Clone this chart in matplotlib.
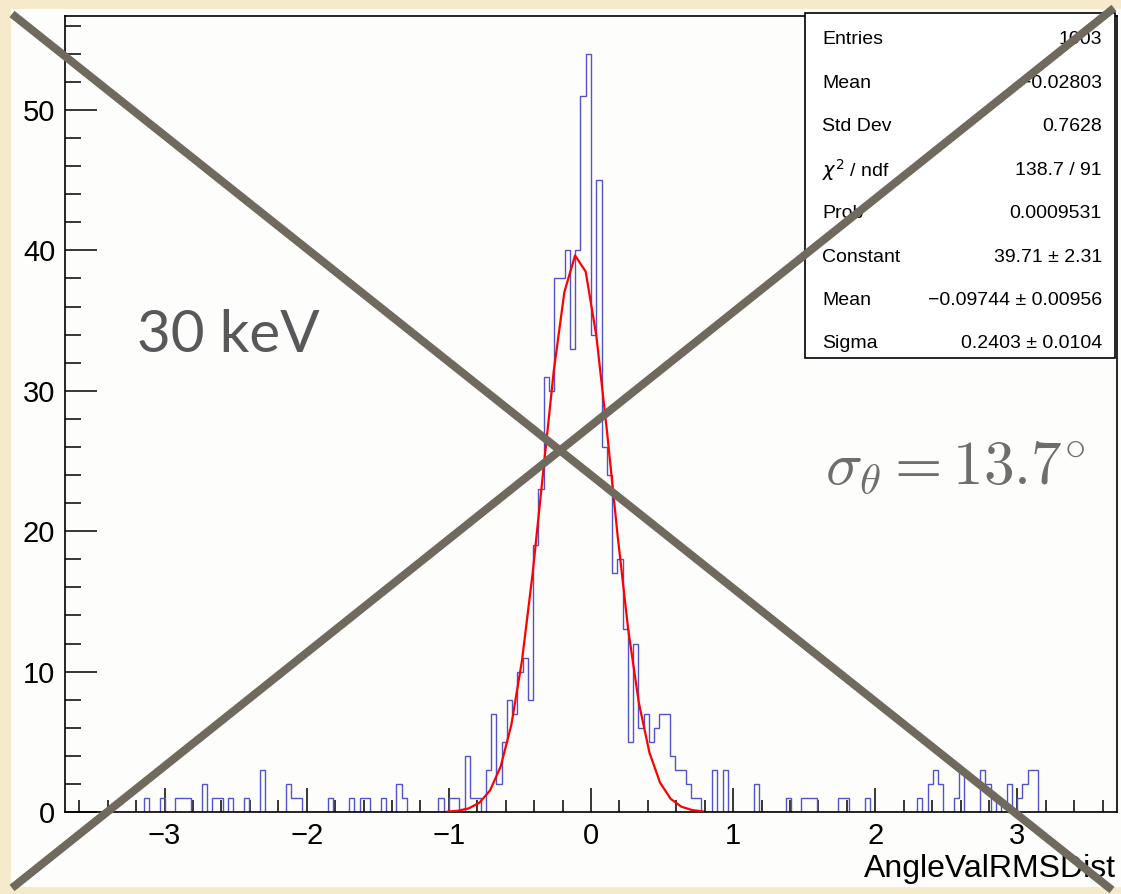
import numpy as np
import matplotlib
matplotlib.use('Agg')
import matplotlib.pyplot as plt
from matplotlib.lines import Line2D
from matplotlib.patches import Rectangle
from matplotlib.ticker import MultipleLocator

# ---------------- data ----------------
hist_xmin, hist_xmax, hist_nbins = -3.7, 3.7, 200
filled_bins = [15, 18, 21, 22, 23, 26, 28, 29, 31, 34, 37, 42, 43, 44, 50, 54, 56, 57, 60,
               63, 64, 71, 73, 74, 76, 77, 78,
               80, 81, 82, 83, 84, 85, 86, 87, 88, 89, 90, 91, 92, 93, 94, 95, 96, 97, 98, 99,
               100, 101, 102, 103, 104, 105, 106, 107, 108, 109, 110, 111, 112, 113, 114, 115,
               116, 117, 118, 119, 120,
               123, 125, 131, 137, 140, 141, 142, 147, 148, 152, 162, 164, 165, 166, 169, 170,
               174, 175, 177, 179, 181, 182, 183, 184]
filled_counts = [1, 1, 1, 1, 1, 2, 1, 1, 1, 1, 3, 2, 1, 1, 1, 1, 1, 1, 1,
                 2, 1, 1, 1, 1, 4, 1, 1,
                 3, 7, 2, 5, 8, 7, 10, 11, 8, 19, 23, 31, 30, 38, 38, 40, 33, 40, 51, 54,
                 34, 45, 26, 24, 17, 18, 13, 5, 12, 6, 7, 5, 6, 7, 7, 4,
                 3, 3, 2, 1, 1,
                 3, 3, 2, 1, 1, 1, 1, 1, 1, 1, 1, 2, 3, 2, 1, 3,
                 3, 2, 1, 2, 1, 2, 3, 3]

fit_constant = 39.71
fit_mean = -0.09744
fit_sigma = 0.2403
fit_npx = 100

stats_labels = ["Entries", "Mean", "Std Dev", r"$\chi^{2}$ / ndf", "Prob",
                "Constant", "Mean", "Sigma"]
stats_values = ["1003", "\u22120.02803", "0.7628", "138.7 / 91", "0.0009531",
                "39.71 \u00b1 2.31", "\u22120.09744 \u00b1 0.00956", "0.2403 \u00b1 0.0104"]

x_label = "AngleValRMSDist"
energy_text = "30 keV"
sigma_text = r"$\sigma_{\theta} = 13.7^{\circ}$"

# ---------------- figure ----------------
W, H = 1121, 894
fig = plt.figure(figsize=(W / 100, H / 100), dpi=100)
fig.patch.set_facecolor('#F5EACB')

def fx(px):
    return px / W

def fy(py):
    return 1 - py / H

# white canvas
fig.add_artist(Rectangle((fx(11), fy(887)), fx(1121 - 11), (887 - 9) / H,
                         transform=fig.transFigure, facecolor='#FDFDFB',
                         edgecolor='none', zorder=0))

ax_left, ax_right, ax_top, ax_bottom = 65, 1117, 15.9, 812
ax = fig.add_axes([fx(ax_left), fy(ax_bottom), (ax_right - ax_left) / W,
                   (ax_bottom - ax_top) / H])
ax.set_facecolor('none')

edges = np.linspace(hist_xmin, hist_xmax, hist_nbins + 1)
counts = np.zeros(hist_nbins)
counts[filled_bins] = filled_counts
ax.stairs(counts, edges, color='#5252CC', lw=1.0, zorder=2)

xf = np.linspace(hist_xmin, hist_xmax, fit_npx)
yf = fit_constant * np.exp(-0.5 * ((xf - fit_mean) / fit_sigma) ** 2)
mask = yf > 0.02
ax.plot(xf[mask], yf[mask], color='#FF0000', lw=1.6, zorder=3)

ax.set_xlim(hist_xmin, hist_xmax)
ax.set_ylim(0, 1.05 * max(filled_counts))

ax.xaxis.set_major_locator(MultipleLocator(1))
ax.xaxis.set_minor_locator(MultipleLocator(0.2))
ax.yaxis.set_major_locator(MultipleLocator(10))
ax.yaxis.set_minor_locator(MultipleLocator(2))
ax.tick_params(which='both', direction='in', top=False, right=False,
               width=1.1, color='black')
ax.tick_params(axis='x', which='major', length=17.3, pad=7)
ax.tick_params(axis='x', which='minor', length=8.6)
ax.tick_params(axis='y', which='major', length=22.7, pad=7)
ax.tick_params(axis='y', which='minor', length=11.3)
for lab in ax.get_xticklabels() + ax.get_yticklabels():
    lab.set_fontfamily('Liberation Sans')
    lab.set_fontsize(21)
for sp in ax.spines.values():
    sp.set_linewidth(1.2)
    sp.set_color('black')

fig.text(fx(1116), fy(877), x_label, ha='right', va='baseline',
         fontsize=23, family='Liberation Sans')

# stats box
bx0, bx1, by0, by1 = 805, 1115, 13, 358
fig.add_artist(Rectangle((fx(bx0), fy(by1)), (bx1 - bx0) / W, (by1 - by0) / H,
                         transform=fig.transFigure, facecolor='white',
                         edgecolor='black', lw=1.2, zorder=5))
row_y0, row_dy = 40, 43.4
for i, (lab, val) in enumerate(zip(stats_labels, stats_values)):
    yy = fy(row_y0 + i * row_dy)
    fig.text(fx(822), yy, lab, ha='left', va='center', fontsize=14,
             family='Liberation Sans', math_fontfamily='dejavusans', zorder=6)
    fig.text(fx(1102), yy, val, ha='right', va='center', fontsize=14,
             family='Liberation Sans', zorder=6)

# annotations
fig.text(fx(137), fy(352), energy_text, ha='left', va='baseline', fontsize=42,
         family='Lato', color='#58585A', zorder=7)
fig.text(fx(825), fy(484), sigma_text, ha='left', va='baseline', fontsize=44,
         math_fontfamily='cm', color='#6E6E6E', zorder=7)

# big cross
cross_color = '#6F6A5D'
fig.add_artist(Line2D([fx(12), fx(1112)], [fy(14), fy(890)], transform=fig.transFigure,
                      color=cross_color, lw=5.8, solid_capstyle='butt', zorder=10))
fig.add_artist(Line2D([fx(12), fx(1114)], [fy(888), fy(8)], transform=fig.transFigure,
                      color=cross_color, lw=5.8, solid_capstyle='butt', zorder=10))

fig.savefig('out.png', dpi=100, facecolor=fig.get_facecolor())
